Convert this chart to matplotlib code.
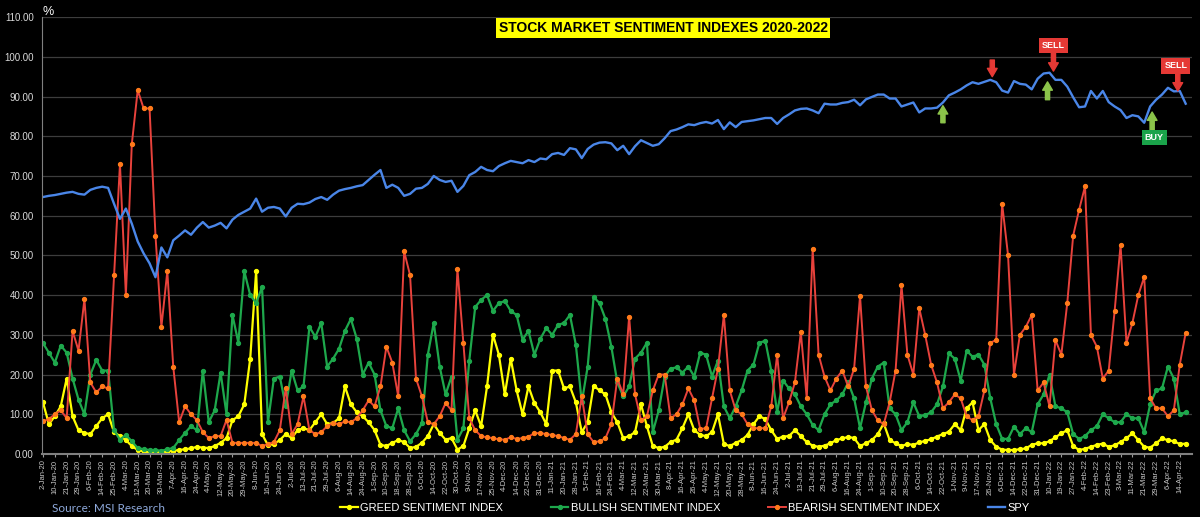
import numpy as np
import matplotlib
matplotlib.use("Agg")
import matplotlib.pyplot as plt

plt.rcParams["font.family"] = ["Liberation Sans", "DejaVu Sans"]

# one value every 3 trading days, 2-Jan-20 .. mid-Apr-22
SPY = [
    64.7, 65, 65.2, 65.5, 65.8, 66, 65.5, 65.3, 66.5, 67,
    67.3, 67, 63, 59.2, 61.8, 58, 53.5, 50.5, 48, 44.5,
    52, 49.5, 53.8, 55, 56.3, 55.2, 57, 58.4, 57, 57.5,
    58.2, 56.8, 59, 60.2, 61, 61.8, 64.3, 61, 62, 62.2,
    61.8, 59.8, 62, 63, 62.9, 63.3, 64.2, 64.7, 64, 65.3,
    66.3, 66.7, 67, 67.4, 67.7, 69, 70.3, 71.5, 67, 67.8,
    67, 65, 65.5, 66.8, 67, 68, 70, 69, 68.5, 68.8,
    66, 67.5, 70.2, 71, 72.3, 71.5, 71.2, 72.5, 73.2, 73.8,
    73.5, 73.2, 74, 73.5, 74.4, 74.2, 75.5, 75.8, 75.3, 77,
    76.7, 74.5, 76.8, 77.9, 78.4, 78.5, 78.2, 76.5, 77.6, 75.5,
    77.5, 79, 78.3, 77.6, 78, 79.5, 81.3, 81.7, 82.3, 83,
    82.8, 83.3, 83.6, 83.2, 84.1, 81.8, 83.5, 82.3, 83.6, 83.8,
    84, 84.3, 84.6, 84.6, 83.1, 84.6, 85.5, 86.5, 86.9, 87,
    86.5, 85.8, 88.2, 88, 88, 88.4, 88.6, 89.2, 87.8, 89.3,
    89.9, 90.5, 90.5, 89.5, 89.5, 87.5, 88, 88.5, 86, 87,
    87, 87.2, 88.5, 90.3, 91, 91.8, 92.8, 93.6, 93.2, 93.7,
    94.2, 93.6, 91.5, 91, 93.9, 93.2, 93, 91.8, 94.5, 95.8,
    96, 94.2, 94.2, 92.5, 89.8, 87.3, 87.5, 91.4, 89.5, 91.4,
    88.6, 87.5, 86.6, 84.6, 85.3, 85, 83.4, 87.5, 89.2, 90.5,
    92.2, 91.3, 91.4, 88.2,
]

BULLISH = [
    27.9, 25.5, 23, 27.3, 25.5, 19, 13.7, 10, 20, 23.7,
    21, 21, 6, 3.6, 4.8, 3.2, 1.5, 1.2, 1.0, 1.0,
    0.8, 1.2, 1.5, 3.5, 5.3, 7, 6, 21, 8, 11,
    20.5, 10, 35, 28, 46, 40, 38, 42, 8, 19,
    19.5, 12, 21, 16, 17, 32, 29.5, 33, 22, 24,
    26.5, 31, 34, 29, 20, 23, 20, 11, 7, 6.5,
    11.5, 6, 3.2, 5, 7.8, 25, 33, 22, 15, 19.5,
    3.6, 6.5, 23.5, 37, 38.8, 40, 36, 38, 38.5, 36,
    35, 28.8, 31, 25, 29, 31.7, 30, 32.5, 33, 35,
    27.5, 13, 22, 39.5, 38, 34, 27, 18, 14.5, 17,
    24, 25.5, 28, 5.5, 11, 19.5, 21.5, 21.8, 20.5, 22,
    19.5, 25.5, 25, 19.5, 23.5, 12, 9, 12, 16, 21,
    22.5, 28, 28.5, 21, 10.5, 18.5, 16.5, 15, 12, 10,
    7.3, 6, 10, 12.5, 13.5, 15, 18, 14, 6.5, 13,
    19, 22, 23, 11.5, 10, 6, 8, 13, 9.5, 9.8,
    10.5, 12.5, 17, 25.3, 24, 18.5, 26, 24.5, 25, 22.5,
    14, 7.5, 3.8, 3.8, 6.9, 5, 6.5, 5.5, 12.5, 15,
    20, 12, 11.5, 10.5, 5, 3.8, 4.5, 6, 7, 10,
    9, 8, 8, 10, 9, 9, 5.5, 12.5, 16, 16.5,
    22, 19, 10, 10.5,
]

GREED = [
    13, 7.5, 9.5, 12, 19, 9.5, 6, 5.3, 5, 7,
    9, 10, 5.5, 4.5, 3.5, 2, 1, 0.6, 0.4, 0.4,
    0.5, 0.6, 0.8, 1, 1.2, 1.4, 1.8, 1.6, 1.5, 2,
    2.8, 4, 8.5, 9.5, 12.5, 24, 46, 5, 2.2, 2.5,
    3.5, 5, 4, 6, 6.5, 6, 8, 10, 7.5, 7.8,
    9, 17, 12.5, 10.5, 9.5, 8, 6, 2.3, 2, 2.8,
    3.5, 3, 1.5, 1.8, 2.8, 4.5, 7.5, 5.3, 3.6, 4,
    1.1, 2, 6.5, 11, 7, 17, 30, 25, 15, 24,
    16, 10, 17, 12.8, 10.5, 7.5, 21, 21, 16.5, 17,
    13, 5.5, 8, 17.2, 16, 15, 10.5, 8, 4, 4.5,
    5.5, 12.5, 7, 2, 1.5, 1.8, 3, 3.6, 6.5, 10,
    6, 4.8, 4.5, 5.5, 10, 2.5, 2, 2.8, 3.5, 4.8,
    7.5, 9.5, 8.8, 6, 3.8, 4.4, 4.5, 6, 4.5, 3,
    2.1, 1.8, 2.1, 2.7, 3.5, 3.9, 4.3, 4, 2, 2.7,
    3.5, 5, 7.7, 3.5, 2.7, 2, 2.5, 2.3, 2.9, 3.3,
    3.7, 4.4, 5, 5.6, 7.5, 6, 11.5, 13, 6, 7.5,
    3.5, 1.8, 1.1, 1, 1, 1.2, 1.4, 2.3, 2.7, 2.7,
    3.2, 4.2, 5.2, 6, 2, 1, 1.3, 1.8, 2.3, 2.6,
    1.8, 2.2, 3, 4, 5.2, 3.5, 1.8, 1.6, 2.7, 3.9,
    3.5, 3.2, 2.5, 2.6,
]

BEARISH = [
    8.2, 8.8, 10, 11, 9, 31, 26, 39, 18, 15.5,
    17, 16.5, 45, 73, 40, 78, 91.6, 87, 87, 55,
    32, 46, 22, 8, 12, 10, 8.5, 5.5, 4, 4.5,
    4.5, 8.6, 2.8, 2.8, 2.8, 2.8, 2.8, 2, 2.5, 3,
    6, 16.6, 5, 7.5, 14.5, 6, 5, 5.5, 7, 7.8,
    7.5, 8.2, 8, 9, 11, 13.5, 12, 17, 27, 23,
    14.5, 51, 45, 19, 14.5, 8, 7.5, 9.5, 12.8, 11,
    46.6, 28, 9, 6, 4.5, 4.2, 4, 3.7, 3.6, 4.2,
    3.8, 4, 4.4, 5.2, 5.3, 5, 4.8, 4.5, 4, 3.6,
    5, 14.5, 5, 3, 3.2, 4, 7.5, 19, 15, 34.6,
    15, 8.5, 9.5, 16, 20, 20, 9, 10, 12.5, 16.5,
    13.5, 6.3, 6.5, 14, 21.5, 35, 16, 11, 10, 7.5,
    6.5, 6.5, 6.5, 12, 25, 9, 13, 18, 30.6, 14,
    51.5, 25, 19.5, 16, 19, 21, 17, 21.5, 39.8, 17,
    11, 8.5, 7.5, 13, 21, 42.5, 25, 20, 36.7, 30,
    22.5, 18, 11.5, 13, 15, 14, 9.5, 8.5, 9.5, 16,
    28, 28.7, 63, 50, 20, 30, 32, 35, 16, 18,
    12, 28.7, 25, 38, 55, 61.5, 67.4, 30, 27, 19,
    21, 36, 52.6, 28, 33, 40, 44.6, 14, 11.5, 11.5,
    9.5, 11, 22.5, 30.5,
]

# x tick labels, one every 6 trading days
DATE_LABELS = [
    "2-Jan-20", "10-Jan-20", "21-Jan-20", "29-Jan-20", "6-Feb-20", "14-Feb-20",
    "25-Feb-20", "4-Mar-20", "12-Mar-20", "20-Mar-20", "30-Mar-20", "7-Apr-20",
    "16-Apr-20", "24-Apr-20", "4-May-20", "12-May-20", "20-May-20", "29-May-20",
    "8-Jun-20", "16-Jun-20", "24-Jun-20", "2-Jul-20", "13-Jul-20", "21-Jul-20",
    "29-Jul-20", "6-Aug-20", "14-Aug-20", "24-Aug-20", "1-Sep-20", "10-Sep-20",
    "18-Sep-20", "28-Sep-20", "6-Oct-20", "14-Oct-20", "22-Oct-20", "30-Oct-20",
    "9-Nov-20", "17-Nov-20", "25-Nov-20", "4-Dec-20", "14-Dec-20", "22-Dec-20",
    "31-Dec-20", "11-Jan-21", "20-Jan-21", "28-Jan-21", "5-Feb-21", "16-Feb-21",
    "24-Feb-21", "4-Mar-21", "12-Mar-21", "22-Mar-21", "30-Mar-21", "8-Apr-21",
    "16-Apr-21", "26-Apr-21", "4-May-21", "12-May-21", "20-May-21", "28-May-21",
    "8-Jun-21", "16-Jun-21", "24-Jun-21", "2-Jul-21", "13-Jul-21", "21-Jul-21",
    "29-Jul-21", "6-Aug-21", "16-Aug-21", "24-Aug-21", "1-Sep-21", "10-Sep-21",
    "20-Sep-21", "28-Sep-21", "6-Oct-21", "14-Oct-21", "22-Oct-21", "1-Nov-21",
    "9-Nov-21", "17-Nov-21", "26-Nov-21", "6-Dec-21", "14-Dec-21", "22-Dec-21",
    "31-Dec-21", "10-Jan-22", "19-Jan-22", "27-Jan-22", "4-Feb-22", "14-Feb-22",
    "23-Feb-22", "3-Mar-22", "11-Mar-22", "21-Mar-22", "29-Mar-22", "6-Apr-22",
    "14-Apr-22",
]

# trading-signal callouts on the SPY line: (kind, trading day, head y, tail y)
SIGNALS = [
    ("sell", 481, 95.0, 99.2),
    ("sell", 512, 96.4, 101.2),
    ("sell", 575, 91.4, 96.0),
    ("buy", 456, 87.7, 83.4),
    ("buy", 509, 93.7, 89.2),
    ("buy", 562, 86.1, 81.4),
]
# boxed labels: (text, trading day, y)
SIGNAL_LABELS = [("SELL", 512, 102.9), ("SELL", 574, 97.7), ("BUY", 563, 79.6)]

days = np.arange(len(SPY)) * 3

fig = plt.figure(figsize=(12, 5.17), dpi=100, facecolor="black")
ax = fig.add_axes([0.035, 0.1219, 0.958, 0.845])
ax.set_facecolor("black")

l_greed, = ax.plot(days, GREED, color="#ffff00", lw=1.6, marker="o", ms=2.8,
                   label="GREED SENTIMENT INDEX")
l_bull, = ax.plot(days, BULLISH, color="#1ea84c", lw=1.6, marker="o", ms=2.8,
                  label="BULLISH SENTIMENT INDEX")
l_bear, = ax.plot(days, BEARISH, color="#e8423c", lw=1.4, marker="o", ms=2.8,
                  mfc="#ff7a1a", mec="#ff7a1a", label="BEARISH SENTIMENT INDEX")
l_spy, = ax.plot(days, SPY, color="#4a86e8", lw=1.7, label="SPY")

ax.set_xlim(-0.5, 582)
ax.set_ylim(0, 110)
ax.set_yticks(np.arange(0, 111, 10))
ax.set_yticklabels([f"{v:.2f}" for v in range(0, 111, 10)])
ax.set_xticks(np.arange(len(DATE_LABELS)) * 6)
ax.set_xticklabels(DATE_LABELS, rotation=90)
ax.grid(axis="y", color="#3d3d3d", lw=0.9)
ax.set_axisbelow(True)
ax.tick_params(axis="y", length=0, colors="#d9d9d9", labelsize=7, pad=6)
ax.tick_params(axis="x", colors="#9a9a9a", labelcolor="#c8c8c8", length=2,
               labelsize=5.5, pad=2)
for side in ("top", "right"):
    ax.spines[side].set_visible(False)
ax.spines["left"].set_color("#808080")
ax.spines["bottom"].set_color("#808080")
ax.spines["bottom"].set_linewidth(1.5)

for kind, day, head, tail in SIGNALS:
    col = "#e53935" if kind == "sell" else "#8bc34a"
    ax.annotate("", xy=(day, head), xytext=(day, tail),
                arrowprops=dict(arrowstyle="simple,head_width=0.7,head_length=0.6,tail_width=0.3",
                                color=col, mutation_scale=10, shrinkA=0, shrinkB=0))
for text, day, y in SIGNAL_LABELS:
    box = "#e53935" if text == "SELL" else "#1aa34a"
    ax.text(day, y, text, color="white", fontsize=6.5, fontweight="bold",
            ha="center", va="center",
            bbox=dict(facecolor=box, edgecolor="none", pad=2.2))

fig.text(42 / 1200, 1 - 12 / 517, "%", color="white", fontsize=9, va="center")
fig.text(663 / 1200, 1 - 28 / 517, "STOCK MARKET SENTIMENT INDEXES 2020-2022",
         color="black", fontsize=10, fontweight="bold", ha="center", va="center",
         bbox=dict(facecolor="#ffff00", edgecolor="none", pad=2.0))
fig.text(52 / 1200, 1 - 508 / 517, "Source: MSI Research", color="#8ea9db",
         fontsize=8.5, va="center", family=["Lato", "DejaVu Sans"])

fig.legend(handles=[l_greed, l_bull, l_bear, l_spy], loc="center left",
           bbox_to_anchor=(330 / 1200, 1 - 508 / 517), ncol=4, frameon=False,
           fontsize=8, labelcolor="white", handlelength=1.6,
           handletextpad=0.2, columnspacing=4.3)

fig.savefig("out.png", dpi=100, facecolor="black")
